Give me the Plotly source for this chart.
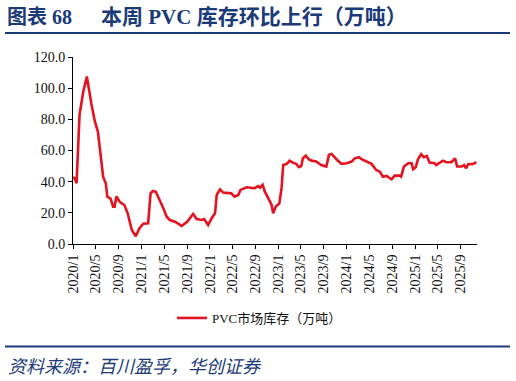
import plotly.graph_objects as go

# ---- data ----
dates = [
    "2020-01-01", "2020-01-10", "2020-01-20", "2020-02-05", "2020-02-25", "2020-03-15",
    "2020-04-08", "2020-04-26", "2020-05-13", "2020-06-01", "2020-06-10", "2020-06-24",
    "2020-07-02", "2020-07-20", "2020-08-02", "2020-08-10", "2020-08-20", "2020-09-06",
    "2020-10-01", "2020-10-18", "2020-11-10", "2020-12-01", "2020-12-20", "2021-01-10",
    "2021-02-05", "2021-02-18", "2021-03-02", "2021-03-18", "2021-04-09", "2021-04-27",
    "2021-05-15", "2021-06-01", "2021-06-28", "2021-08-03", "2021-09-01", "2021-09-25",
    "2021-10-03", "2021-10-22", "2021-11-18", "2021-12-01", "2021-12-22", "2022-01-10",
    "2022-01-28", "2022-02-06", "2022-02-24", "2022-03-12", "2022-04-25", "2022-05-12",
    "2022-06-01", "2022-06-13", "2022-07-15", "2022-08-28", "2022-09-15", "2022-09-25",
    "2022-10-09", "2022-10-21", "2022-11-09", "2022-11-26", "2022-12-04", "2022-12-18",
    "2023-01-06", "2023-01-18", "2023-01-27", "2023-02-15", "2023-03-02", "2023-03-19",
    "2023-04-06", "2023-04-21", "2023-05-03", "2023-05-12", "2023-05-27", "2023-06-12",
    "2023-06-26", "2023-07-22", "2023-08-18", "2023-09-14", "2023-09-28", "2023-10-12",
    "2023-11-07", "2023-12-04", "2024-01-01", "2024-01-27", "2024-02-13", "2024-03-06",
    "2024-03-20", "2024-04-15", "2024-05-12", "2024-06-06", "2024-06-25", "2024-07-12",
    "2024-08-01", "2024-08-18", "2024-08-27", "2024-09-13", "2024-10-09", "2024-10-17",
    "2024-11-01", "2024-11-24", "2024-12-12", "2024-12-20", "2025-01-03", "2025-01-15",
    "2025-02-01", "2025-02-15", "2025-03-03", "2025-03-18", "2025-04-14", "2025-04-22",
    "2025-05-10", "2025-05-28", "2025-06-15", "2025-07-12", "2025-08-01", "2025-08-12",
    "2025-09-06", "2025-09-18", "2025-09-29", "2025-10-10", "2025-11-06", "2025-11-23",
]
inventory = [
    43, 42, 39, 83, 98, 107.5,
    90, 79, 72, 54, 43, 39,
    30.5, 29, 24, 24, 30.5, 27,
    25, 20, 9, 5, 10, 13,
    13.3, 32.5, 34, 33.5, 28, 23,
    17.5, 15.4, 14.3, 11.6, 14.3, 18.6,
    19.3, 16, 15.4, 16, 12.2, 16.5,
    19.7, 31.5, 35, 33, 32.5, 30.4,
    31.5, 34.7, 36.4, 35.8, 37.2, 36.2,
    38, 33.6, 29.3, 25, 19.7, 24,
    26, 36, 50.7, 51.4, 53.5, 52.2,
    51.4, 49.3, 50, 55, 56.7, 54.4,
    53.5, 53, 50.7, 49.7, 57.2, 57.8,
    54.4, 51.4, 51.8, 52.9, 55, 55.7,
    54.4, 53, 51.4, 47.5, 46.4, 43.2,
    43.7, 42.2, 41.5, 43.9, 43.9, 43.2,
    49.7, 51.8, 51.8, 48, 49.3, 54.4,
    57.6, 55.7, 56.5, 52.2, 51.8, 50.7,
    52.2, 53.5, 52.5, 52.5, 55, 49.7,
    49.7, 50.7, 48.6, 51.2, 51.4, 52.5,
]
tick_dates = [
    "2020-01-01", "2020-05-01", "2020-09-01", "2021-01-01", "2021-05-01", "2021-09-01",
    "2022-01-01", "2022-05-01", "2022-09-01", "2023-01-01", "2023-05-01", "2023-09-01",
    "2024-01-01", "2024-05-01", "2024-09-01", "2025-01-01", "2025-05-01", "2025-09-01",
]
tick_labels = [
    "2020/1", "2020/5", "2020/9", "2021/1", "2021/5", "2021/9",
    "2022/1", "2022/5", "2022/9", "2023/1", "2023/5", "2023/9",
    "2024/1", "2024/5", "2024/9", "2025/1", "2025/5", "2025/9",
]
series_name = "PVC市场库存（万吨）"
title_left = "图表 68"
title_main = "本周 PVC 库存环比上行（万吨）"
source_text = "资料来源：百川盈孚，华创证券"

# ---- layout geometry (pixels) ----
W, H = 516, 381
L, R, T, B = 73, 39, 57, 137
pw, ph = W - L - R, H - T - B


def px(x):
    return (x - L) / pw


def py(y):
    return (H - B - y) / ph


NAVY = "#1B3A78"
RED = "#E5121F"
SERIF = "Liberation Serif, Noto Sans CJK SC, serif"

fig = go.Figure()
fig.add_trace(go.Scatter(
    x=dates, y=inventory, mode="lines", name=series_name,
    line=dict(color=RED, width=2.6),
))

fig.update_layout(
    width=W, height=H,
    margin=dict(l=L, r=R, t=T, b=B, pad=0),
    paper_bgcolor="white", plot_bgcolor="white",
    font=dict(family=SERIF, size=13, color="#111"),
    showlegend=True,
    legend=dict(
        orientation="h", x=px(172), y=py(318), xanchor="left", yanchor="middle",
        font=dict(family=SERIF, size=13, color="#111"),
        bgcolor="rgba(0,0,0,0)",
    ),
    xaxis=dict(
        type="date", range=["2020-01-01", "2025-11-26"],
        tickmode="array", tickvals=tick_dates, ticktext=tick_labels,
        tickangle=-90, ticks="outside", ticklen=4, tickcolor="#000",
        showline=True, linecolor="#000", linewidth=1,
        showgrid=False, zeroline=False,
        tickfont=dict(family=SERIF, size=14, color="#111"),
    ),
    yaxis=dict(
        range=[0, 120], dtick=20, tickformat=".1f",
        ticks="outside", ticklen=4, tickcolor="#000",
        showline=True, linecolor="#000", linewidth=1,
        showgrid=False, zeroline=False,
        tickfont=dict(family=SERIF, size=14, color="#111"),
    ),
    shapes=[
        dict(type="line", xref="paper", yref="paper",
             x0=px(5), x1=px(510), y0=py(33), y1=py(33),
             line=dict(color=NAVY, width=2)),
        dict(type="line", xref="paper", yref="paper",
             x0=px(5), x1=px(510), y0=py(346.5), y1=py(346.5),
             line=dict(color=NAVY, width=2)),
    ],
    annotations=[
        dict(text="<b>" + title_left + "</b>", xref="paper", yref="paper",
             x=px(5), y=py(17), xanchor="left", yanchor="middle", showarrow=False,
             font=dict(family=SERIF, size=20, color=NAVY)),
        dict(text="<b>" + title_main + "</b>", xref="paper", yref="paper",
             x=px(99), y=py(17), xanchor="left", yanchor="middle", showarrow=False,
             font=dict(family=SERIF, size=21, color=NAVY)),
        dict(text="<i>" + source_text + "</i>", xref="paper", yref="paper",
             x=px(6), y=py(367), xanchor="left", yanchor="middle", showarrow=False,
             font=dict(family=SERIF, size=18, color=NAVY)),
    ],
)

fig.write_html(
    "out.html",
    config={"displayModeBar": False},
    post_script="document.body.style.margin='0';document.body.style.overflow='hidden';",
)
